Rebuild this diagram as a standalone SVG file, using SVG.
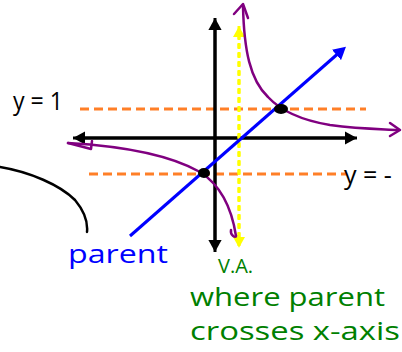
<svg xmlns="http://www.w3.org/2000/svg" width="402" height="352" viewBox="0 0 402 352">
<style>
.ax{stroke:#000;stroke-width:3;fill:none}
.dash{stroke:#ff7f27;stroke-width:3;stroke-dasharray:9 5;fill:none}
.va{stroke:#ffff00;stroke-width:3;stroke-dasharray:5 4;fill:none}
.pur{stroke:#800080;stroke-width:2.5;fill:none;stroke-linecap:round;stroke-linejoin:round}
.hand{font-family:"Open Sans","DejaVu Sans",sans-serif}
</style>
<defs>
<marker id="ab" markerWidth="4.4" markerHeight="4.4" refX="2" refY="2.2" orient="auto" markerUnits="strokeWidth"><path d="M0,0 L4,2.2 L0,4.4 Z" fill="#000"/></marker>
<marker id="ay" markerWidth="4" markerHeight="4" refX="2" refY="2" orient="auto" markerUnits="strokeWidth"><path d="M0,0 L3.6,2 L0,4 Z" fill="#ffff00"/></marker>
<marker id="abl" markerWidth="4.6" markerHeight="4.6" refX="2" refY="2.3" orient="auto" markerUnits="strokeWidth"><path d="M0,0 L4.2,2.3 L0,4.6 Z" fill="#0000ff"/></marker>
</defs>
<rect width="402" height="352" fill="#fff"/>
<g id="connectors">
<line class="dash" x1="80" y1="109" x2="366" y2="109"/>
<line class="dash" x1="89" y1="174" x2="346" y2="174"/>
<line class="ax" x1="215" y1="252" x2="215" y2="24" marker-end="url(#ab)"/>
<line class="ax" x1="215" y1="18" x2="215" y2="246" marker-end="url(#ab)"/>
<line class="ax" x1="357" y1="138" x2="79" y2="138" marker-end="url(#ab)"/>
<line class="ax" x1="73" y1="138" x2="351" y2="138" marker-end="url(#ab)"/>
<line class="va" x1="239" y1="246" x2="239" y2="31" marker-end="url(#ay)"/>
<line class="va" x1="239" y1="26" x2="239" y2="243" marker-end="url(#ay)"/>
<line x1="130" y1="236" x2="341" y2="51" stroke="#0000ff" stroke-width="3" marker-end="url(#abl)"/>
<path class="pur" d="M243,6 C244,50 250,80 268,97 C280,110 300,120 330,125 C360,129 380,129 398,130"/>
<path class="pur" d="M234,14 L243,4 L248,18"/>
<path class="pur" d="M390,123 L400,130 L390,136"/>
<path class="pur" d="M68,143 C120,146 170,155 200,172 C222,186 232,210 236,236"/>
<path class="pur" d="M68,143 L91,149 L92,141"/>
<path class="pur" d="M231,230 C230,236 236,238 236,236"/>
<path d="M0,167 C30,172 60,185 75,200 C85,212 88,222 87,232" stroke="#000" stroke-width="2.5" fill="none" stroke-linecap="round"/>
</g>
<g id="dot1"><ellipse cx="281" cy="109" rx="7" ry="5" fill="#000"/></g>
<g id="dot2"><ellipse cx="204" cy="173" rx="6" ry="5" fill="#000"/></g>
<g id="labels" class="hand">
<text x="13" y="110" font-size="25" fill="#000" textLength="50" lengthAdjust="spacingAndGlyphs">y = 1</text>
<text x="344" y="184" font-size="25" fill="#000">y = -</text>
<text x="68" y="263" font-size="26" fill="#0000ff" textLength="100" lengthAdjust="spacingAndGlyphs">parent</text>
<text x="218" y="273" font-size="20" fill="#008000">V.A.</text>
<text x="190" y="306" font-size="26" fill="#008000" textLength="195" lengthAdjust="spacingAndGlyphs">where parent</text>
<text x="190" y="340" font-size="26" fill="#008000" textLength="210" lengthAdjust="spacingAndGlyphs">crosses x-axis</text>
</g>
</svg>
